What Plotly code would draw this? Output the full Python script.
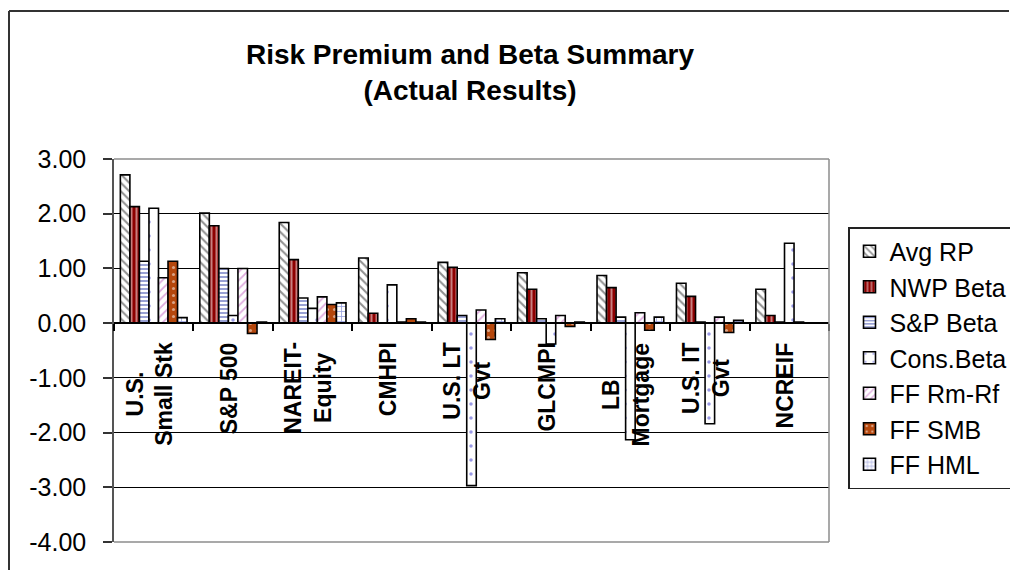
import plotly.graph_objects as go

# ---- data ----
categories = ["U.S. Small Stk", "S&P 500", "NAREIT-Equity", "CMHPI", "U.S. LT Gvt",
              "GLCMPI", "LB Mortgage", "U.S. IT Gvt", "NCREIF"]
tick_labels = ["U.S.<br>Small Stk", "S&P 500", "NAREIT-<br>Equity", "CMHPI", "U.S. LT<br>Gvt",
               "GLCMPI", "LB<br>Mortgage", "U.S. IT<br>Gvt", "NCREIF"]

avg_rp    = [2.71, 2.01, 1.84, 1.19, 1.11, 0.92, 0.87, 0.73, 0.62]
nwp_beta  = [2.13, 1.78, 1.16, 0.18, 1.02, 0.62, 0.65, 0.49, 0.14]
sp_beta   = [1.13, 1.00, 0.46, 0.00, 0.14, 0.08, 0.11, 0.02, 0.02]
cons_beta = [2.10, 0.14, 0.27, 0.70, -2.97, -0.38, -2.13, -1.84, 1.46]
ff_rmrf   = [0.83, 1.00, 0.48, 0.02, 0.24, 0.14, 0.19, 0.11, 0.02]
ff_smb    = [1.13, -0.19, 0.34, 0.08, -0.30, -0.06, -0.13, -0.17, None]
ff_hml    = [0.10, 0.02, 0.37, 0.02, 0.08, 0.02, 0.11, 0.05, None]

series_names = ["Avg RP", "NWP Beta", "S&P Beta", "Cons.Beta", "FF Rm-Rf", "FF SMB", "FF HML"]
series_values = [avg_rp, nwp_beta, sp_beta, cons_beta, ff_rmrf, ff_smb, ff_hml]

y_ticks = [3, 2, 1, 0, -1, -2, -3, -4]
y_tick_text = ["3.00", "2.00", "1.00", "0.00", "-1.00", "-2.00", "-3.00", "-4.00"]

# ---- styles ----
styles = [
    dict(bg="white",   fg="#222222", shape="\\", size=6, solidity=0.35),
    dict(bg="#8E0000", fg="white",   shape="|",  size=5, solidity=0.4),
    dict(bg="white",   fg="#3344AA", shape="-",  size=4, solidity=0.5),
    dict(bg="white",   fg="#3333CC", shape=".",  size=14, solidity=0.05),
    dict(bg="white",   fg="#BB55BB", shape="/",  size=6, solidity=0.3),
    dict(bg="#B5470C", fg="white",   shape=".",  size=7, solidity=0.15),
    dict(bg="white",   fg="#3344BB", shape="+",  size=5, solidity=0.3),
]

FONT = "Arial, 'Liberation Sans', sans-serif"

fig = go.Figure()
for name, vals, st in zip(series_names, series_values, styles):
    fig.add_trace(go.Bar(
        name=name, x=categories, y=vals,
        marker=dict(
            color=st["bg"],
            line=dict(color="black", width=1.6),
            pattern=dict(shape=st["shape"], fgcolor=st["fg"], bgcolor=st["bg"],
                         size=st["size"], solidity=st["solidity"], fillmode="overlay"),
        ),
    ))

# category labels placed at zero line (like Excel "next to axis")
for cat, lab in zip(categories, tick_labels):
    fig.add_annotation(x=cat, y=0, xref="x", yref="y", text=lab, showarrow=False,
                       textangle=-90, xanchor="center", yanchor="top", align="center",
                       xshift=-4, yshift=-17,
                       font=dict(family=FONT, size=23, color="black", weight="bold"))

L, R, T, B = 114, 829, 159, 542
W, H = 1010, 570
pw, ph = R - L, B - T

def px_x(p):
    return (p - L) / pw

def px_y(p):
    return (B - p) / ph

shapes = [
    # outer chart border (left and top edges; the others fall outside the picture)
    dict(type="line", xref="paper", yref="paper", x0=px_x(9), x1=px_x(9),
         y0=px_y(575), y1=px_y(11), line=dict(color="#333333", width=2), layer="below"),
    dict(type="line", xref="paper", yref="paper", x0=px_x(9), x1=px_x(1009),
         y0=px_y(11), y1=px_y(11), line=dict(color="#333333", width=2), layer="below"),
    # plot-area frame (top, right, bottom)
    dict(type="line", xref="paper", yref="paper", x0=0, x1=1, y0=1, y1=1,
         line=dict(color="#8c8c8c", width=1.5), layer="above"),
    dict(type="line", xref="paper", yref="paper", x0=1, x1=1, y0=0, y1=1,
         line=dict(color="#8c8c8c", width=1.5), layer="above"),
    dict(type="line", xref="paper", yref="paper", x0=0, x1=1, y0=0, y1=0,
         line=dict(color="#8c8c8c", width=1.5), layer="above"),
]

fig.update_layout(
    width=W, height=H,
    margin=dict(l=L, r=W - R, t=T, b=H - B, pad=0, autoexpand=False),
    paper_bgcolor="white", plot_bgcolor="white",
    barmode="group", bargap=0.16, bargroupgap=0,
    font=dict(family=FONT, color="black"),
    title=dict(text="<b>Risk Premium and Beta Summary<br>(Actual Results)</b>",
               x=470 / W, xanchor="center",
               y=1 - 64 / H, yanchor="middle",
               font=dict(family=FONT, size=28, color="black")),
    xaxis=dict(anchor="free", position=4 / 7, showline=True, linecolor="black", linewidth=1.5,
               ticks="outside", tickson="boundaries", ticklen=7, tickcolor="black", tickwidth=1.5,
               showticklabels=False, showgrid=False, zeroline=False,
               categoryorder="array", categoryarray=categories),
    yaxis=dict(range=[-4, 3], tickvals=y_ticks, ticktext=y_tick_text,
               showline=True, linecolor="#555555", linewidth=1.5,
               ticks="outside", ticklen=9, tickcolor="#333333", tickwidth=1.5,
               ticklabelstandoff=12,
               showgrid=True, gridcolor="black", gridwidth=1, zeroline=False,
               tickfont=dict(family=FONT, size=25, color="black")),
    legend=dict(x=px_x(848), xanchor="left", y=px_y(227), yanchor="top",
                bgcolor="white", bordercolor="#222222", borderwidth=1.5,
                font=dict(family=FONT, size=25, color="black"),
                itemwidth=30, traceorder="normal"),
    shapes=shapes,
)

fig.write_html("out.html", config={"displayModeBar": False})
